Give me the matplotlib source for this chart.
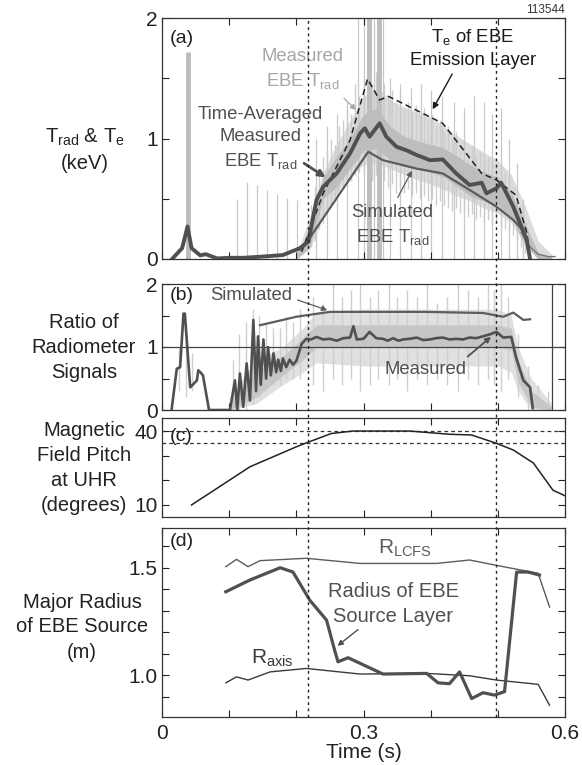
import matplotlib
matplotlib.use("Agg")
import matplotlib.pyplot as plt
from matplotlib.lines import Line2D
from matplotlib.transforms import blended_transform_factory

plt.rcParams['font.family'] = ['Liberation Sans', 'DejaVu Sans']
plt.rcParams['mathtext.default'] = 'regular'

# ---------------- data ----------------
shot_number = "113544"
event_times = [0.218, 0.497]

# (a) time-averaged measured EBE Trad (keV)
avg_t = [0.015, 0.030, 0.038, 0.044, 0.057, 0.065, 0.082, 0.103, 0.121, 0.150, 0.180, 0.205, 0.218,
         0.230, 0.240, 0.260, 0.280, 0.295, 0.302, 0.309, 0.324, 0.334, 0.349, 0.365, 0.379, 0.390,
         0.399, 0.418, 0.438, 0.458, 0.476, 0.483, 0.498, 0.505, 0.523, 0.535, 0.543, 0.548]
avg_trad = [0.0, 0.09, 0.27, 0.09, 0.03, 0.04, 0.005, 0.01, 0.01, 0.02, 0.033, 0.089, 0.144,
            0.49, 0.60, 0.71, 0.877, 1.043, 1.085, 1.015, 1.126, 1.015, 0.932, 0.90, 0.863, 0.84,
            0.82, 0.826, 0.71, 0.614, 0.633, 0.545, 0.587, 0.633, 0.434, 0.268, 0.157, 0.0]
tail_t = [0.535, 0.548, 0.560, 0.575, 0.585]
tail_trad = [0.22, 0.10, 0.04, 0.02, 0.02]

# (a) Te of EBE emission layer (keV)
te_t = [0.208, 0.240, 0.280, 0.306, 0.324, 0.337, 0.418, 0.476, 0.498, 0.527, 0.543, 0.548]
te_kev = [0.06, 0.545, 0.988, 1.494, 1.32, 1.35, 1.126, 0.71, 0.656, 0.53, 0.22, 0.02]

# (a) simulated EBE Trad (keV)
sim_t = [0.205, 0.212, 0.307, 0.329, 0.379, 0.418, 0.458, 0.498, 0.523, 0.537]
sim_trad = [0.08, 0.11, 0.89, 0.82, 0.75, 0.71, 0.573, 0.434, 0.324, 0.24]

# (a) measured EBE Trad: outer and core envelopes of the fast signal
band_a_t = [0.20, 0.22, 0.24, 0.26, 0.28, 0.30, 0.32, 0.34, 0.36, 0.38, 0.40, 0.42, 0.44,
            0.46, 0.48, 0.50, 0.52, 0.54, 0.56, 0.58]
band_a_hi = [0.03, 0.35, 0.72, 0.95, 1.15, 1.35, 1.42, 1.32, 1.26, 1.22, 1.18, 1.10, 1.02,
             0.95, 0.88, 0.82, 0.70, 0.45, 0.15, 0.04]
band_a_lo = [0.0, 0.08, 0.35, 0.55, 0.70, 0.78, 0.80, 0.75, 0.70, 0.66, 0.62, 0.58, 0.52,
             0.48, 0.42, 0.38, 0.30, 0.12, 0.0, 0.0]
core_a_hi = [0.03, 0.25, 0.68, 0.85, 1.00, 1.20, 1.25, 1.10, 1.02, 0.98, 0.95, 0.92, 0.85,
             0.78, 0.72, 0.68, 0.55, 0.30, 0.05, 0.02]
core_a_lo = [0.0, 0.10, 0.50, 0.60, 0.75, 0.90, 0.92, 0.82, 0.78, 0.75, 0.72, 0.68, 0.60,
             0.52, 0.48, 0.45, 0.35, 0.12, 0.0, 0.0]
# (a) fine streaks of the fast signal (time, bottom, top in keV)
streak_a_t = [0.222, 0.228, 0.234, 0.240, 0.246, 0.252, 0.258, 0.264, 0.270, 0.276, 0.282,
              0.288, 0.294, 0.300, 0.306, 0.312, 0.318, 0.324, 0.330, 0.336, 0.342, 0.348,
              0.354, 0.360, 0.366, 0.372, 0.378, 0.384, 0.390, 0.396, 0.402, 0.408, 0.414,
              0.420, 0.426, 0.432, 0.438, 0.444, 0.450, 0.456, 0.462, 0.468, 0.474, 0.480,
              0.486, 0.492, 0.498, 0.504, 0.510, 0.516, 0.522, 0.528, 0.534, 0.540, 0.546]
streak_a_top = [0.45, 0.60, 0.75, 0.85, 0.90, 1.00, 0.95, 1.10, 1.15, 1.25, 1.20,
                1.45, 1.35, 1.50, 1.40, 1.45, 1.55, 1.40, 1.45, 1.35, 1.40, 1.30,
                1.35, 1.25, 1.30, 1.20, 1.28, 1.20, 1.25, 1.15, 1.20, 1.10, 1.15,
                1.05, 1.10, 1.00, 1.05, 0.95, 1.00, 0.90, 0.95, 0.85, 0.90, 0.82,
                0.85, 0.78, 0.80, 0.75, 0.72, 0.65, 0.60, 0.50, 0.42, 0.30, 0.15]
streak_a_bot = [0.10, 0.15, 0.25, 0.30, 0.40, 0.45, 0.50, 0.55, 0.60, 0.60, 0.65,
                0.70, 0.72, 0.70, 0.75, 0.65, 0.70, 0.60, 0.65, 0.60, 0.62, 0.55,
                0.60, 0.55, 0.58, 0.52, 0.55, 0.50, 0.52, 0.48, 0.50, 0.45, 0.48,
                0.45, 0.42, 0.40, 0.42, 0.38, 0.40, 0.35, 0.37, 0.33, 0.35, 0.30,
                0.32, 0.28, 0.30, 0.26, 0.25, 0.22, 0.20, 0.15, 0.10, 0.05, 0.0]
# (a) tall isolated spikes (time, peak keV)
spike_a_t = [0.111, 0.126, 0.141, 0.156, 0.171, 0.186, 0.201, 0.230, 0.245, 0.260, 0.275,
             0.292, 0.300, 0.315, 0.329, 0.340, 0.355, 0.370, 0.385, 0.400, 0.417, 0.435,
             0.450, 0.465, 0.480, 0.492, 0.505, 0.517, 0.528, 0.538]
spike_a_top = [0.50, 0.64, 0.61, 0.57, 0.54, 0.51, 0.49, 1.00, 1.10, 1.20, 1.30,
               2.0, 2.0, 2.0, 2.0, 1.50, 1.45, 1.42, 1.45, 1.40, 1.35, 1.30,
               1.25, 1.35, 1.30, 1.20, 1.25, 1.00, 0.80, 0.50]
big_spike_t = [0.038, 0.308, 0.323]
big_spike_top = [1.72, 2.0, 2.0]

# (b) ratio of radiometer signals
ratio_sim_t = [0.146, 0.200, 0.250, 0.389, 0.478, 0.508, 0.523, 0.538, 0.548]
ratio_sim = [1.346, 1.48, 1.558, 1.558, 1.54, 1.48, 1.546, 1.43, 1.44]

ratio_meas_t = [0.0144, 0.022, 0.027, 0.032, 0.034, 0.042, 0.052, 0.054, 0.057, 0.061, 0.069, 0.070,
                0.1012, 0.1086, 0.112, 0.116, 0.121, 0.126, 0.131, 0.136, 0.140, 0.143, 0.147,
                0.151, 0.155, 0.158, 0.162, 0.166, 0.170, 0.173, 0.177, 0.180, 0.185, 0.190,
                0.195, 0.200, 0.208, 0.215, 0.222, 0.230, 0.240, 0.250, 0.260, 0.270, 0.280,
                0.285, 0.290, 0.300, 0.309, 0.319, 0.329, 0.336, 0.344, 0.352, 0.359, 0.369,
                0.379, 0.389, 0.399, 0.408, 0.418, 0.428, 0.438, 0.448, 0.458, 0.468, 0.478,
                0.488, 0.498, 0.508, 0.520, 0.527, 0.538, 0.548, 0.552]
ratio_meas = [0.016, 0.654, 0.68, 1.53, 1.53, 0.36, 0.47, 0.63, 0.60, 0.55, 0.06, 0.0,
              0.0, 0.47, 0.0, 0.58, 0.05, 0.74, 0.15, 1.43, 0.30, 1.17, 0.40,
              1.12, 0.50, 1.00, 0.55, 0.90, 0.60, 0.80, 0.62, 0.82, 0.68, 0.80,
              0.72, 0.78, 1.05, 1.13, 1.12, 1.16, 1.12, 1.13, 1.10, 1.14, 1.15,
              1.33, 1.12, 1.13, 1.24, 1.14, 1.13, 1.10, 1.14, 1.10, 1.12, 1.13,
              1.15, 1.11, 1.12, 1.14, 1.15, 1.12, 1.13, 1.12, 1.15, 1.14, 1.17,
              1.20, 1.24, 1.15, 1.16, 0.84, 0.47, 0.36, 0.03]

band_b_t = [0.10, 0.14, 0.18, 0.21, 0.23, 0.30, 0.40, 0.50, 0.52, 0.53, 0.55, 0.58]
band_b_hi = [0.2, 0.8, 1.0, 1.3, 1.55, 1.6, 1.6, 1.6, 1.5, 1.0, 0.5, 0.1]
band_b_lo = [0.0, 0.1, 0.4, 0.6, 0.75, 0.70, 0.70, 0.70, 0.60, 0.30, 0.0, 0.0]
core_b_hi = [0.1, 0.6, 0.85, 1.15, 1.35, 1.35, 1.35, 1.35, 1.30, 0.8, 0.3, 0.05]
core_b_lo = [0.0, 0.2, 0.55, 0.80, 1.00, 1.00, 1.00, 1.00, 0.95, 0.45, 0.05, 0.0]
streak_b_t = [0.025, 0.035, 0.045, 0.105, 0.115, 0.125, 0.135, 0.145, 0.155, 0.165, 0.175,
              0.185, 0.195, 0.205, 0.225, 0.240, 0.255, 0.268, 0.282, 0.295, 0.310, 0.322,
              0.338, 0.350, 0.365, 0.380, 0.395, 0.410, 0.425, 0.440, 0.455, 0.470, 0.485,
              0.495, 0.505, 0.515, 0.530, 0.545, 0.560, 0.575]
streak_b_lo = [0.3, 0.2, 0.3, 0.0, 0.0, 0.0, 0.1, 0.2, 0.3, 0.4, 0.4,
               0.5, 0.5, 0.5, 0.4, 0.3, 0.5, 0.4, 0.5, 0.3, 0.4, 0.5,
               0.4, 0.5, 0.3, 0.5, 0.4, 0.5, 0.4, 0.3, 0.5, 0.4, 0.5,
               0.4, 0.3, 0.5, 0.2, 0.0, 0.0, 0.0]
streak_b_hi = [1.0, 1.4, 0.9, 0.8, 1.2, 1.4, 1.6, 1.5, 1.4, 1.3, 1.3,
               1.5, 1.4, 1.6, 1.8, 1.7, 2.0, 1.8, 1.9, 2.0, 1.8, 1.9,
               2.0, 1.8, 1.9, 1.8, 2.0, 1.7, 1.8, 2.0, 1.9, 1.8, 2.0,
               1.9, 2.0, 1.8, 1.2, 0.7, 0.4, 0.3]
ratio_vline = 0.58

# (c) magnetic field pitch at UHR (degrees)
pitch_t = [0.044, 0.131, 0.200, 0.213, 0.252, 0.284, 0.369, 0.428, 0.461, 0.498, 0.523, 0.553, 0.582, 0.600]
pitch_deg = [10.0, 25.5, 33.6, 35.0, 39.0, 40.0, 40.0, 38.7, 38.4, 35.0, 32.3, 27.0, 16.0, 13.7]
pitch_refs = [40, 35]

# (d) major radius (m)
rlcfs_t = [0.095, 0.111, 0.128, 0.146, 0.215, 0.295, 0.409, 0.458, 0.503, 0.560, 0.577]
rlcfs = [1.505, 1.539, 1.505, 1.533, 1.544, 1.52, 1.52, 1.536, 1.508, 1.474, 1.317]
raxis_t = [0.095, 0.111, 0.128, 0.161, 0.215, 0.295, 0.394, 0.458, 0.498, 0.560, 0.577]
raxis = [0.964, 0.992, 0.977, 1.015, 1.031, 1.005, 1.008, 0.997, 0.977, 0.957, 0.86]
rsrc_t = [0.095, 0.131, 0.176, 0.195, 0.220, 0.245, 0.257, 0.262, 0.277, 0.329, 0.394, 0.411,
          0.428, 0.443, 0.461, 0.478, 0.495, 0.510, 0.528, 0.545, 0.562]
rsrc = [1.388, 1.443, 1.50, 1.48, 1.349, 1.256, 1.116, 1.062, 1.081, 1.005, 1.008, 0.964,
        0.96, 1.015, 0.891, 0.918, 0.907, 0.923, 1.48, 1.48, 1.466]

# ---------------- figure ----------------
W, H = 582, 765
fig = plt.figure(figsize=(W / 100, H / 100), dpi=100)

def box(top, bottom, left=162, right=565):
    return [left / W, 1 - bottom / H, (right - left) / W, (bottom - top) / H]

ax_a = fig.add_axes(box(18, 259))
ax_b = fig.add_axes(box(284, 410))
ax_c = fig.add_axes(box(418, 517))
ax_d = fig.add_axes(box(528, 717))
axes = [ax_a, ax_b, ax_c, ax_d]

INK = '#222222'
DARK = '#505050'
MID = '#5c5c5c'
LIGHTTXT = '#a6a6a6'
ANN = 13.3
xt = [0.0, 0.1, 0.2, 0.3, 0.4, 0.5, 0.6]

for ax in axes:
    ax.set_xlim(0, 0.6)
    ax.set_xticks(xt)
    ax.tick_params(direction='in', length=5, width=0.8, top=True, right=True,
                   labelsize=15, colors=INK, pad=3)
    for s in ax.spines.values():
        s.set_color('#333333')
        s.set_linewidth(0.9)
    ax.set_xticklabels([])
ax_b.tick_params(top=False)

# (a)
ax_a.set_ylim(0, 2)
ax_a.set_yticks([0, 0.5, 1, 1.5, 2])
ax_a.set_yticklabels(['0', '', '1', '', '2'])
ax_a.fill_between(band_a_t, band_a_lo, band_a_hi, color='#dcdcdc', lw=0, zorder=1)
ax_a.vlines(streak_a_t, streak_a_bot, streak_a_top, color='#cdcdcd', lw=1.0, zorder=1)
ax_a.vlines(spike_a_t, 0, spike_a_top, color='#c8c8c8', lw=0.9, zorder=1)
ax_a.fill_between(band_a_t, core_a_lo, core_a_hi, color='#bdbdbd', lw=0, zorder=1)
ax_a.vlines(big_spike_t, 0, big_spike_top, color='#bdbdbd', lw=3.5, zorder=1)
ax_a.plot(te_t, te_kev, color=INK, lw=1.1, ls=(0, (4, 2.5)), zorder=3)
ax_a.plot(sim_t, sim_trad, color=MID, lw=1.6, zorder=3)
ax_a.plot(tail_t, tail_trad, color='#777777', lw=1.0, zorder=3)
ax_a.plot(avg_t, avg_trad, color=DARK, lw=2.8, zorder=4)
ax_a.text(0.012, 1.90, '(a)', fontsize=14, va='top', color=INK)
ax_a.text(1.0, 1.01, shot_number, transform=ax_a.transAxes, ha='right', va='bottom',
          fontsize=8.5, color='#333333')
ax_a.text(0.209, 1.57, 'Measured\nEBE T$_{rad}$', fontsize=ANN, color=LIGHTTXT,
          ha='center', va='center', linespacing=1.4)
ax_a.annotate('', xy=(0.292, 1.22), xytext=(0.268, 1.35),
              arrowprops=dict(arrowstyle='-|>', color=LIGHTTXT, lw=0.9, mutation_scale=8))
ax_a.text(0.463, 1.75, 'T$_e$ of EBE\nEmission Layer', fontsize=ANN, color='#1a1a1a',
          ha='center', va='center', linespacing=1.4)
ax_a.annotate('', xy=(0.401, 1.222), xytext=(0.434, 1.555),
              arrowprops=dict(arrowstyle='-|>', color='#1a1a1a', lw=1.0, mutation_scale=9))
ax_a.text(0.147, 1.0, 'Time-Averaged\nMeasured\nEBE T$_{rad}$', fontsize=ANN, color=DARK,
          ha='center', va='center', linespacing=1.4)
ax_a.annotate('', xy=(0.247, 0.665), xytext=(0.208, 0.807),
              arrowprops=dict(arrowstyle='-|>', color=DARK, lw=2.0, mutation_scale=10))
ax_a.text(0.343, 0.275, 'Simulated\nEBE T$_{rad}$', fontsize=ANN, color=DARK,
          ha='center', va='center', linespacing=1.4)
ax_a.annotate('', xy=(0.374, 0.753), xytext=(0.349, 0.49),
              arrowprops=dict(arrowstyle='-|>', color=MID, lw=0.9, mutation_scale=8))

# (b)
ax_b.set_ylim(0, 2)
ax_b.set_yticks([0, 0.5, 1, 1.5, 2])
ax_b.set_yticklabels(['0', '', '1', '', '2'])
ax_b.fill_between(band_b_t, band_b_lo, band_b_hi, color='#e0e0e0', lw=0, zorder=1)
ax_b.vlines(streak_b_t, streak_b_lo, streak_b_hi, color='#cfcfcf', lw=1.0, zorder=1)
ax_b.fill_between(band_b_t, core_b_lo, core_b_hi, color='#c6c6c6', lw=0, zorder=1)
ax_b.axhline(1.0, color='#444444', lw=0.9, zorder=2)
ax_b.axvline(ratio_vline, color='#444444', lw=0.9, zorder=2)
ax_b.plot(ratio_sim_t, ratio_sim, color=MID, lw=1.6, zorder=3)
ax_b.plot(ratio_meas_t, ratio_meas, color=DARK, lw=1.9, zorder=4)
ax_b.text(0.012, 1.95, '(b)', fontsize=14, va='top', color=INK)
ax_b.text(0.1335, 1.82, 'Simulated', fontsize=ANN, color=DARK, ha='center', va='center')
ax_b.annotate('', xy=(0.25, 1.57), xytext=(0.198, 1.76),
              arrowprops=dict(arrowstyle='-|>', color=MID, lw=0.9, mutation_scale=8))
ax_b.text(0.3925, 0.65, 'Measured', fontsize=ANN, color=DARK, ha='center', va='center')
ax_b.annotate('', xy=(0.493, 1.19), xytext=(0.452, 0.82),
              arrowprops=dict(arrowstyle='-|>', color=DARK, lw=1.3, mutation_scale=8))

# (c)
ax_c.set_ylim(5.1, 45.3)
ax_c.set_yticks([10, 20, 30, 40])
ax_c.set_yticklabels(['10', '', '', '40'])
for v in pitch_refs:
    ax_c.axhline(v, color='#333333', lw=0.9, ls=(0, (3, 2.5)))
ax_c.plot(pitch_t, pitch_deg, color=INK, lw=1.1)
ax_c.text(0.012, 37.7, '(c)', fontsize=14, va='center', color=INK)

# (d)
ax_d.set_ylim(0.805, 1.685)
ax_d.set_yticks([0.9, 1.0, 1.1, 1.2, 1.3, 1.4, 1.5, 1.6])
ax_d.set_yticklabels(['', '1.0', '', '', '', '', '1.5', ''])
ax_d.plot(rlcfs_t, rlcfs, color=MID, lw=1.0)
ax_d.plot(raxis_t, raxis, color='#3a3a3a', lw=1.0)
ax_d.plot(rsrc_t, rsrc, color=DARK, lw=2.3)
ax_d.text(0.012, 1.66, '(d)', fontsize=14, va='top', color=INK)
ax_d.text(0.3615, 1.59, 'R$_{LCFS}$', fontsize=15, color=MID, ha='center', va='center')
ax_d.text(0.164, 1.08, 'R$_{axis}$', fontsize=15, color='#3a3a3a', ha='center', va='center')
ax_d.text(0.344, 1.33, 'Radius of EBE\nSource Layer', fontsize=14.5, color=DARK,
          ha='center', va='center', linespacing=1.4)
ax_d.annotate('', xy=(0.258, 1.128), xytext=(0.295, 1.22),
              arrowprops=dict(arrowstyle='-|>', color=DARK, lw=1.0, mutation_scale=8))
ax_d.set_xticklabels(['0', '', '', '0.3', '', '', '0.6'])
ax_d.tick_params(axis='x', labelsize=15, pad=5)
ax_d.set_xlabel('Time (s)', fontsize=15, labelpad=0, color=INK)

# vertical event lines through all panels
top_y = ax_a.get_position().y1
bot_y = ax_d.get_position().y0
trans = blended_transform_factory(ax_d.transData, fig.transFigure)
for t in event_times:
    fig.add_artist(Line2D([t, t], [bot_y, top_y], transform=trans, color=INK,
                          lw=1.0, ls=(0, (2, 2.5)), zorder=10))

# panel labels on the left
def ylab(txt, x, y, ls=1.4):
    fig.text(x / W, 1 - y / H, txt, ha='center', va='center', fontsize=14.5,
             color=INK, linespacing=ls)

ylab('T$_{rad}$ & T$_e$\n(keV)', 85, 150)
ylab('Ratio of\nRadiometer\nSignals', 84, 348)
ylab('Magnetic\nField Pitch\nat UHR\n(degrees)', 84, 468)
ylab('Major Radius\nof EBE Source\n(m)', 82, 627)

fig.savefig('out.png', dpi=100)
